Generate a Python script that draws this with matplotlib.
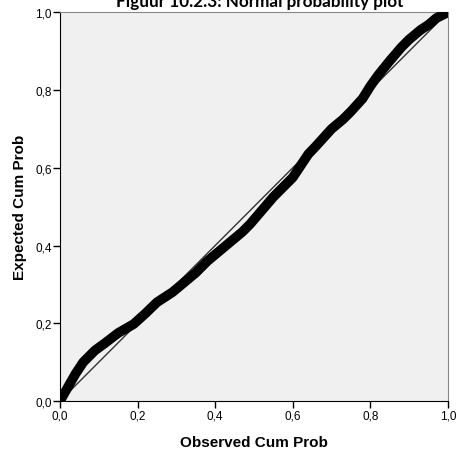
import matplotlib.pyplot as plt
import numpy as np

# observed vs expected cumulative probability
observed = np.array([0.0, 0.02, 0.04, 0.06, 0.09, 0.12, 0.15, 0.19, 0.22, 0.25, 0.29, 0.32,
                     0.35, 0.38, 0.41, 0.44, 0.47, 0.49, 0.52, 0.55, 0.58, 0.60, 0.62, 0.64,
                     0.66, 0.70, 0.73, 0.75, 0.78, 0.80, 0.82, 0.85, 0.88, 0.90, 0.93, 0.95,
                     0.97, 1.0])
expected = np.array([0.0, 0.035, 0.07, 0.10, 0.13, 0.152, 0.175, 0.198, 0.225, 0.254, 0.28, 0.305,
                     0.33, 0.36, 0.385, 0.41, 0.435, 0.455, 0.49, 0.525, 0.555, 0.575, 0.605, 0.635,
                     0.656, 0.70, 0.725, 0.745, 0.778, 0.81, 0.838, 0.875, 0.91, 0.93, 0.955, 0.968,
                     0.985, 1.0])
ticks = [0.0, 0.2, 0.4, 0.6, 0.8, 1.0]
tick_labels = ["0,0", "0,2", "0,4", "0,6", "0,8", "1,0"]

plt.rcParams['font.family'] = ['Liberation Sans', 'DejaVu Sans']

fig = plt.figure(figsize=(4.58, 4.52), dpi=100)
ax = fig.add_axes([0.131, 0.1106, 0.847, 0.860])
ax.set_facecolor("#f0f0f0")

ax.plot([0, 1], [0, 1], color="#333333", lw=1.0, zorder=2)
ax.plot(observed, expected, color="black", lw=7, solid_capstyle="round",
        solid_joinstyle="round", zorder=3)

ax.set_xlim(0, 1)
ax.set_ylim(0, 1)
ax.set_xticks(ticks)
ax.set_xticklabels(tick_labels)
ax.set_yticks(ticks)
ax.set_yticklabels(tick_labels)
ax.tick_params(labelsize=8.5, length=5, width=1, color="black", pad=1)

for s in ["left", "bottom"]:
    ax.spines[s].set_color("black")
for s in ["top", "right"]:
    ax.spines[s].set_color("#888888")

ax.set_xlabel("Observed Cum Prob", fontsize=11, fontweight="bold", labelpad=10)
ax.set_ylabel("Expected Cum Prob", fontsize=11, fontweight="bold", labelpad=6)

fig.text(0.567, 0.985, "Figuur 10.2.3: Normal probability plot", ha="center", va="baseline",
         fontsize=12.3, fontweight="bold", family=["Lato", "DejaVu Sans"])

fig.savefig("out.png", dpi=100)
